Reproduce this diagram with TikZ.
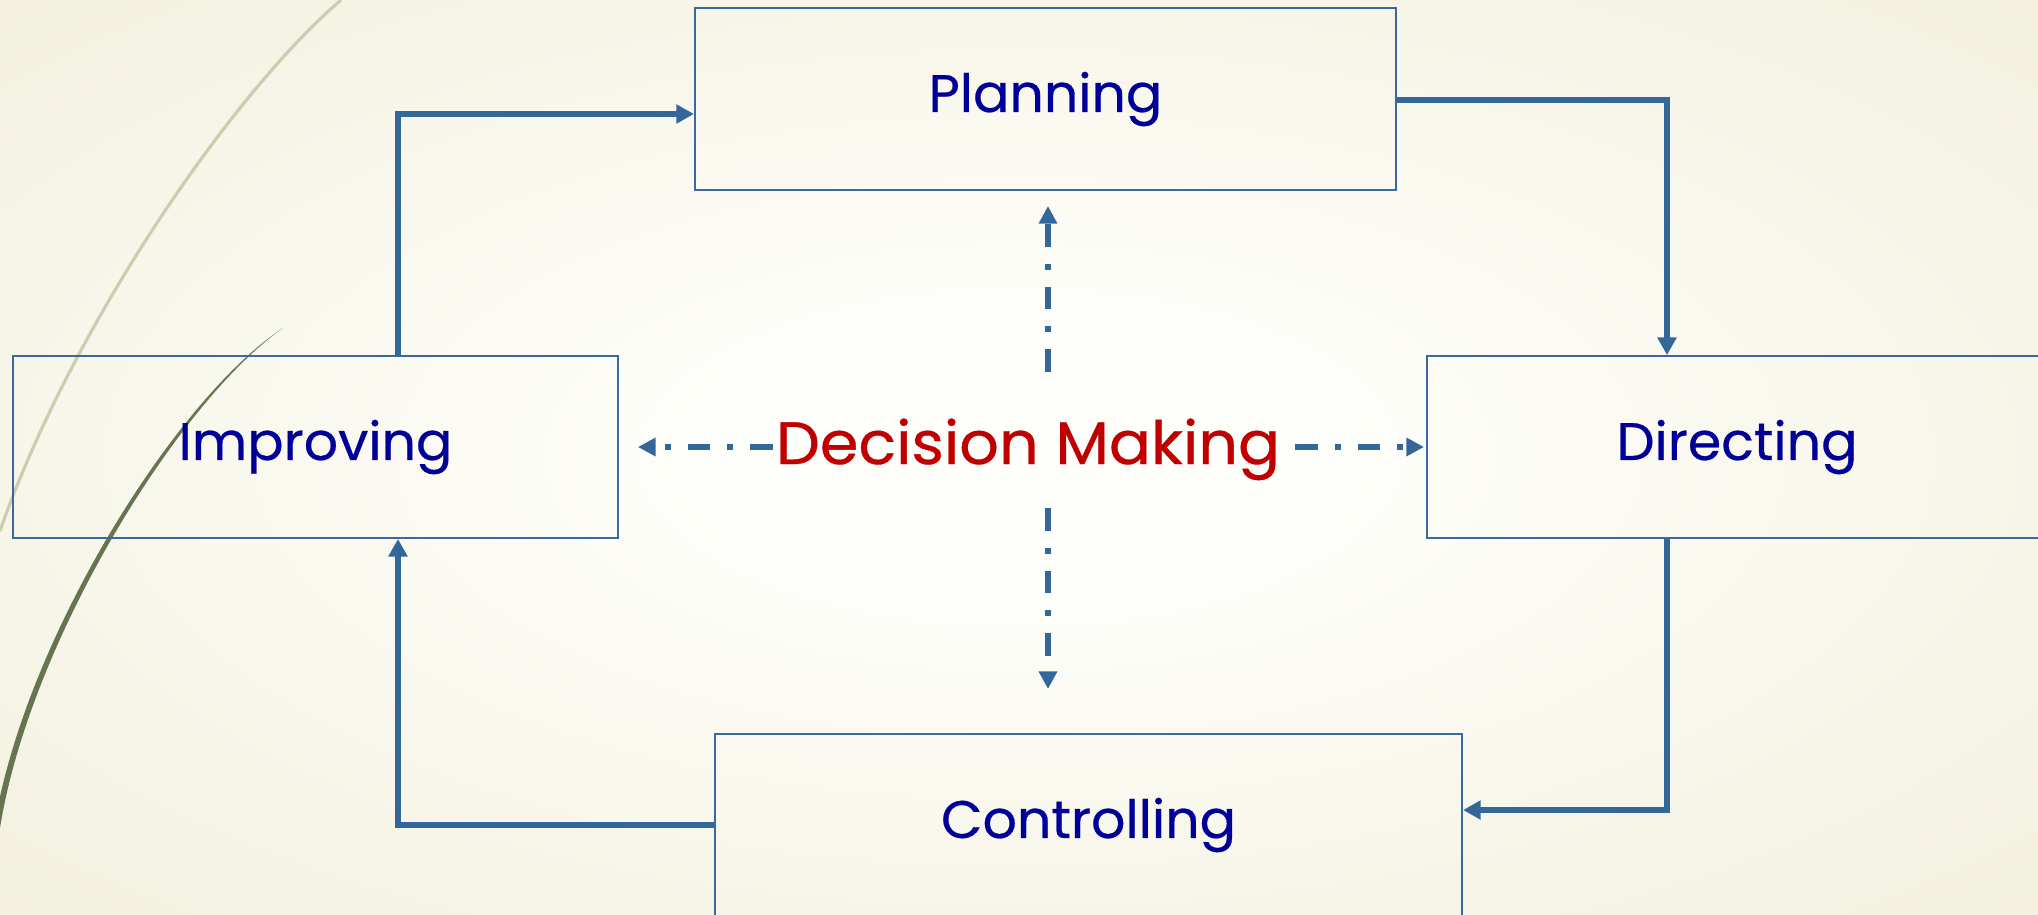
\documentclass[tikz,border=0pt]{standalone}
\usepackage{fontspec}
\newfontfamily\dfont[FakeStretch=1.02,FakeBold=0.5]{Poppins}
\newfontfamily\dmfont[FakeStretch=1.04,FakeBold=0.6]{Poppins}
\usetikzlibrary{arrows.meta}
\definecolor{bgin}{HTML}{FEFEFA}
\definecolor{bgout}{HTML}{E5DFBC}
\definecolor{boxline}{HTML}{3A6A9C}
\definecolor{arrowc}{HTML}{336699}
\definecolor{txtblue}{HTML}{000099}
\definecolor{txtred}{HTML}{C00000}
\definecolor{curvelight}{HTML}{CACDAE}
\definecolor{curvedark}{HTML}{667550}
\pgfdeclareradialshading{bgshade}{\pgfpoint{0bp}{0bp}}{color(0bp)=(bgin); color(8bp)=(bgin); color(68bp)=(bgout)}
\tikzset{
  stagebox/.style={draw=boxline, line width=0.5pt, minimum height=1.82cm, inner sep=0pt,
    text=txtblue, font=\dfont\fontsize{15pt}{18pt}\selectfont},
  flow/.style={draw=arrowc, line width=1.75pt, -{Triangle[length=5pt,width=5.2pt]}},
  dd/.style={draw=arrowc, line width=1.75pt, dash pattern=on 6.5pt off 4.8pt on 1.7pt off 4.8pt,
    -{Triangle[length=5pt,width=5pt]}},
  dmtext/.style={text=txtred, font=\dmfont\fontsize{17pt}{20pt}\selectfont, inner sep=0pt}
}
\begin{document}
\begin{tikzpicture}[x=0.01cm,y=-0.01cm]
\useasboundingbox (0,0) rectangle (2038,914);
\clip (0,0) rectangle (2038,914);
\shade[shading=bgshade] (0,0) rectangle (2038,914);
% decorative curves
\draw[curvelight, line width=0.9pt] (341,0) .. controls (230,95) and (70,330) .. (0,531);
\fill[curvedark] (283,328) .. controls (180,400) and (30,640) .. (0,828) -- (-6,828)
  .. controls (24,640) and (176,398) .. (283,328) -- cycle;
% boxes
\node[stagebox, minimum width=7.01cm] (plan) at (1045.5,99) {Planning};
\node[stagebox, minimum width=6.05cm] (imp) at (315.5,447) {Improving};
\node[stagebox, minimum width=6.20cm] (dir) at (1737,447) {Directing};
\node[stagebox, minimum width=7.47cm] (ctrl) at (1088.5,825) {Controlling};
% flow arrows
\coordinate (c1) at (398,114);
\coordinate (c2) at (1667,100);
\coordinate (c3) at (1667,810);
\coordinate (c4) at (398,825);
\draw[flow] (c1 |- imp.north) -- (c1) -- (c1 -| plan.west);
\draw[flow] (c2 -| plan.east) -- (c2) -- (c2 |- dir.north);
\draw[flow] (c3 |- dir.south) -- (c3) -- (c3 -| ctrl.east);
\draw[flow] (c4 -| ctrl.west) -- (c4) -- (c4 |- imp.south);
% decision making
\node[dmtext, anchor=base] (dm) at (1028,464) {Decision Making};
\coordinate (dmL) at (773,447);
\coordinate (dmR) at (1295,447);
\coordinate (dmT) at (1048,372);
\coordinate (dmB) at (1048,508);
\coordinate (tL) at (638,447);
\coordinate (tR) at (1424,447);
\coordinate (tT) at (1048,206);
\coordinate (tB) at (1048,689);
\draw[dd] (dmL) -- (tL);
\draw[dd] (dmR) -- (tR);
\draw[dd] (dmT) -- (tT);
\draw[dd] (dmB) -- (tB);
\end{tikzpicture}
\end{document}
